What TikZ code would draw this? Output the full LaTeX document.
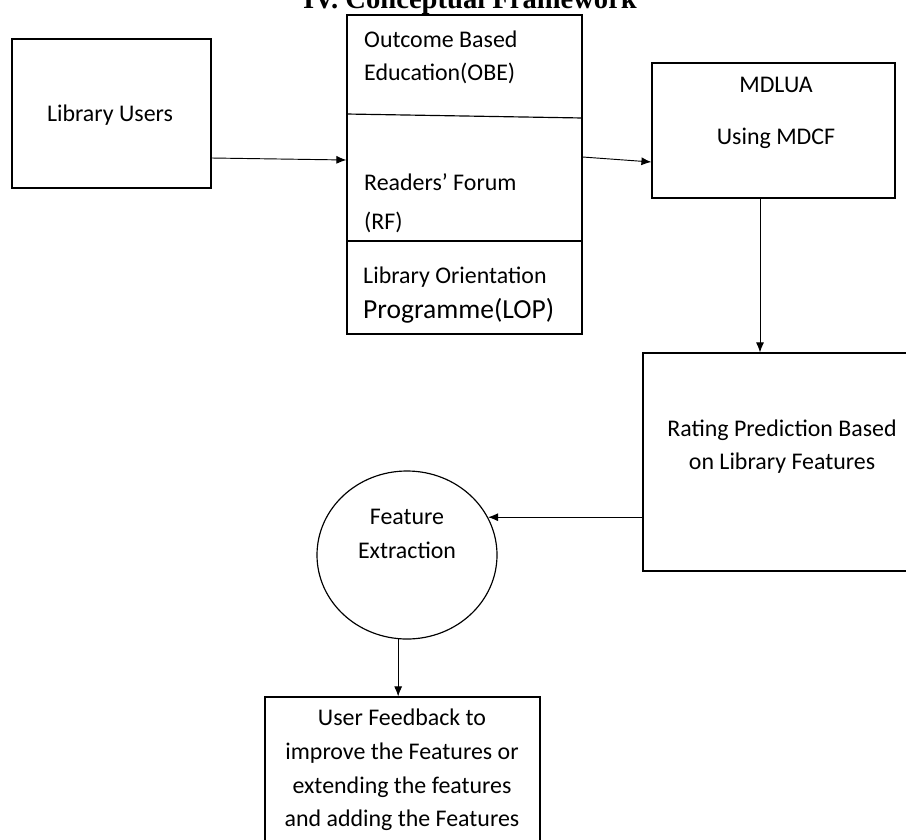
\documentclass[tikz,border=0pt]{standalone}
\usepackage{fontspec}
\setmainfont{Carlito}
\newfontfamily\titlefont{Liberation Serif}
\usetikzlibrary{arrows.meta,shapes.geometric}

\begin{document}
\begin{tikzpicture}[x=0.03cm,y=-0.03cm,
        box/.style={draw,line width=1pt,rectangle,inner sep=0pt},
        arr/.style={-{Latex[length=3mm,width=2.4mm]},line width=0.8pt},
        txt/.style={font=\fontsize{20.4}{28}\selectfont,inner sep=0pt}]
        \useasboundingbox (0,0) rectangle (906,839);

        \node[font=\titlefont\bfseries\fontsize{24.4}{28}\selectfont,anchor=base] (title) at (470,9) {IV. Conceptual Framework};

        \node[box,minimum width=5.97cm,minimum height=4.47cm] (users) at (111.5,113.5) {};
        \node[box,minimum width=7.05cm,minimum height=9.57cm] (mid) at (464.5,174.5) {};
        \node[box,minimum width=7.29cm,minimum height=4.05cm] (mdlua) at (773.5,130.5) {};
        \node[box,minimum width=8.01cm,minimum height=6.54cm] (rating) at (776.5,462) {};
        \node[box,ellipse,minimum width=5.4cm,minimum height=5.04cm] (feature) at (407,555) {};
        \node[box,minimum width=8.25cm,minimum height=4.89cm] (feedback) at (402.5,778.5) {};

        \draw[line width=1pt] (mid.west |- 0,114) -- (mid.east |- 0,118);
        \draw[line width=1pt] (mid.west |- 0,241) -- (mid.east |- 0,241);

        \node[txt] (userstxt) at (110,115) {Library Users};
        \node[txt,anchor=west,align=left,font=\fontsize{20.4}{28}\selectfont] (obe) at (364,57) {Outcome Based\\Education(OBE)};
        \node[txt,anchor=west,align=left,font=\fontsize{20.4}{33}\selectfont] (rf) at (364,203) {Readers’ Forum\\(RF)};
        \node[txt,anchor=west,align=left] (lop) at (363,295) {Library Orientation\\[2pt]{\fontsize{23.5}{28}\selectfont Programme(LOP)}};
        \node[txt,align=center,font=\fontsize{20.4}{44}\selectfont] (mdluatxt) at (776,113) {MDLUA\\Using MDCF};
        \node[txt,align=center] (ratingtxt) at (782,447) {Rating Prediction Based\\on Library Features};
        \node[txt,align=center,font=\fontsize{20.4}{29}\selectfont] (featuretxt) at (407,534) {Feature\\Extraction};
        \node[txt,align=center,font=\fontsize{20.4}{28.6}\selectfont] (feedbacktxt) at (402,770) {User Feedback to\\improve the Features or\\extending the features\\and adding the Features};

        \draw[arr] (users.east |- 0,158) -- (mid.west |- 0,160);
        \draw[arr] (mid.east |- 0,157) -- (mdlua.west |- 0,162);
        \draw[arr] (mdlua.south -| 760,0) -- (rating.north -| 760,0);
        \draw[arr] (rating.west |- feature.25) -- (feature.25);
        \draw[arr] (feature.-96) -- (feature.-96 |- feedback.north);
\end{tikzpicture}
\end{document}
